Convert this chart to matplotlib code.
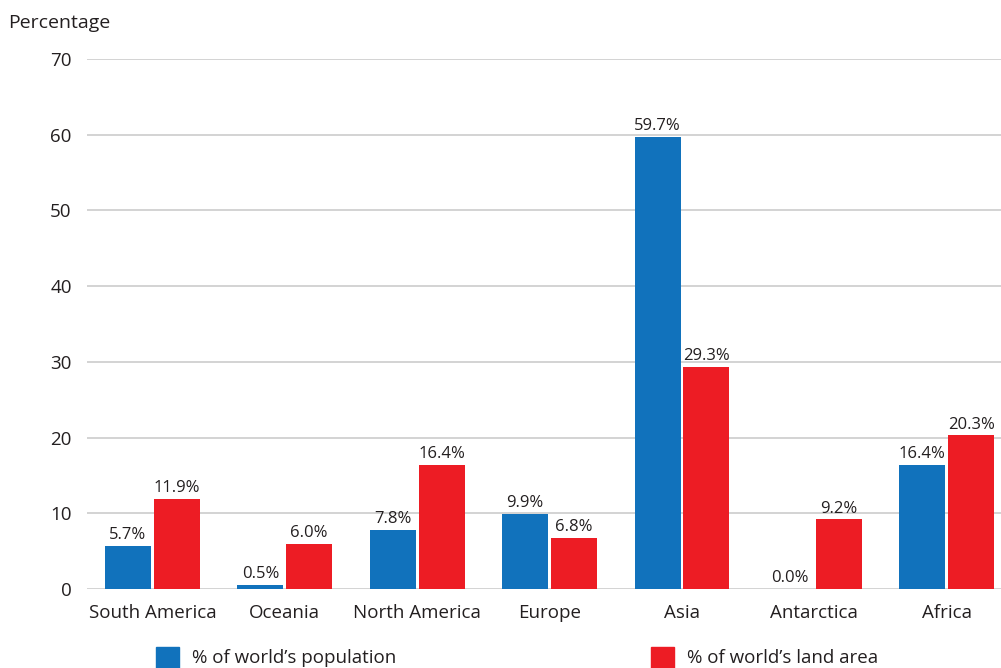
import matplotlib.pyplot as plt
import numpy as np
from matplotlib.patches import Rectangle

plt.rcParams['font.family'] = ['Open Sans', 'DejaVu Sans']

continents = ["South America", "Oceania", "North America", "Europe", "Asia", "Antarctica", "Africa"]
population = [5.7, 0.5, 7.8, 9.9, 59.7, 0.0, 16.4]
land_area = [11.9, 6.0, 16.4, 6.8, 29.3, 9.2, 20.3]
yticks = [0, 10, 20, 30, 40, 50, 60, 70]

blue = "#1172BC"
red = "#ED1C24"
txt = "#231F20"

fig = plt.figure(figsize=(10.01, 6.68), dpi=100)
ax = fig.add_axes([87 / 1001, 79 / 668, 914 / 1001, 530 / 668])

x = np.arange(len(continents))
w = 0.347
off = 0.184
b1 = ax.bar(x - off, population, width=w, color=blue, zorder=3)
b2 = ax.bar(x + off, land_area, width=w, color=red, zorder=3)

for bars, vals in ((b1, population), (b2, land_area)):
    for rect, v in zip(bars, vals):
        ax.annotate(f"{v:.1f}%", (rect.get_x() + rect.get_width() / 2, v),
                    xytext=(0, 2), textcoords="offset points",
                    ha="center", va="bottom", fontsize=12, color=txt)

ax.set_xlim(-0.494, 6.41)
ax.set_ylim(0, 70)
ax.set_yticks(yticks)
ax.set_xticks(x)
ax.set_xticklabels(continents)
ax.grid(axis="y", color="#C8C8C8", linewidth=1.1, zorder=0)
for s in ax.spines.values():
    s.set_visible(False)
ax.tick_params(axis="both", length=0, labelsize=13.5, colors=txt)
ax.tick_params(axis="y", pad=11)
ax.tick_params(axis="x", pad=10.5)

fig.text(8 / 1001, 1 - 23 / 668, "Percentage", fontsize=14, color=txt, va="center", ha="left")

# legend along the bottom edge
for px, label, col in ((156, "% of world’s population", blue), (651, "% of world’s land area", red)):
    fig.add_artist(Rectangle((px / 1001, 0), 23 / 1001, 21 / 668,
                             transform=fig.transFigure, color=col))
    fig.text((px + 36) / 1001, 1 - 658 / 668, label, fontsize=13.5, color=txt,
             va="center", ha="left")

fig.savefig("out.png", dpi=100)
